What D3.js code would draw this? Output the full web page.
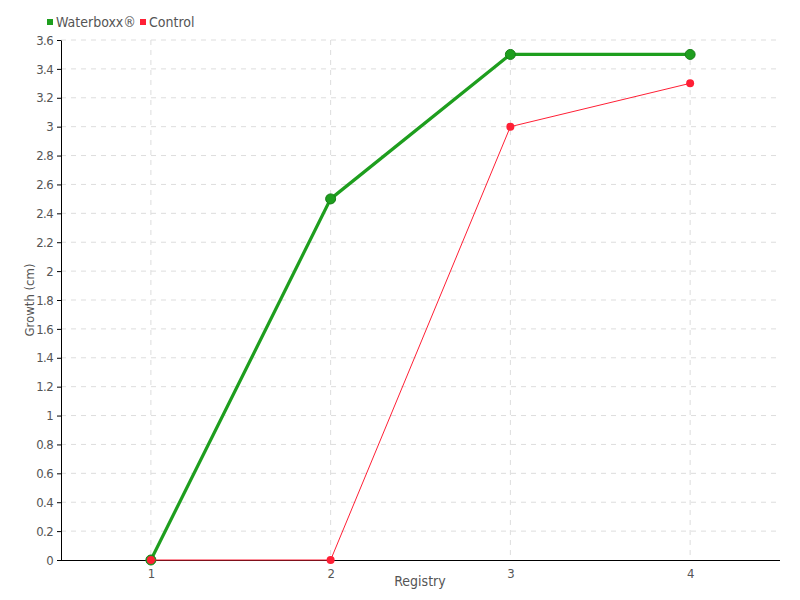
<!DOCTYPE html>
<html><head><meta charset="utf-8">
<script src="https://cdn.jsdelivr.net/npm/d3@7/dist/d3.min.js"></script>
<style>
body{margin:0;background:#fff;}
text{font-family:"DejaVu Sans Condensed",sans-serif;fill:#555;}
</style></head><body>
<svg id="c" width="800" height="600"></svg>
<script>
const categories = ["1","2","3","4"];
const seriesNames = ["Waterboxx®","Control"];
const waterboxx = [0, 2.5, 3.5, 3.5];
const control = [0, 0, 3.0, 3.3];
const yTicks = [0,0.2,0.4,0.6,0.8,1,1.2,1.4,1.6,1.8,2,2.2,2.4,2.6,2.8,3,3.2,3.4,3.6];
const colors = ["#1e9e1e","#ff1f35"];
const FONT = "DejaVu Sans Condensed, sans-serif";

const svg = d3.select("#c");
const L=61,R=780,T=40,B=560;
const x = d3.scalePoint().domain(categories).range([L,R]).padding(0.5);
const y = d3.scaleLinear().domain([0,3.6]).range([B,T]);

// grid
svg.append("g").selectAll("line").data(yTicks.slice(1)).join("line")
  .attr("x1",L).attr("x2",R).attr("y1",d=>y(d)).attr("y2",d=>y(d))
  .attr("stroke","#ddd").attr("stroke-dasharray","5,5");
svg.append("g").selectAll("line").data(categories).join("line")
  .attr("x1",d=>x(d)).attr("x2",d=>x(d)).attr("y1",T).attr("y2",B)
  .attr("stroke","#ddd").attr("stroke-dasharray","5,5");

// axes
const ya = svg.append("g").attr("transform",`translate(${L},0)`)
  .call(d3.axisLeft(y).tickValues(yTicks).tickSize(4).tickSizeOuter(0).tickFormat(d3.format("~g")));
ya.select(".domain").attr("stroke","#000");
ya.selectAll(".tick line").attr("stroke","#000");
ya.selectAll("text").attr("font-size",13).attr("fill","#555").attr("font-family",FONT)
  .attr("letter-spacing","-0.6").attr("dx",-1);
const xa = svg.append("g").attr("transform",`translate(0,${B})`)
  .call(d3.axisBottom(x).tickSize(0).tickPadding(9));
xa.select(".domain").attr("stroke","#000").attr("d",`M${L},0.5H${R}`);
xa.selectAll("text").attr("font-size",13).attr("fill","#555").attr("font-family",FONT);

svg.append("text").attr("x",420).attr("y",586).attr("text-anchor","middle").attr("font-size",14).text("Registry");
svg.append("text").attr("transform","translate(34,300) rotate(-90)").attr("text-anchor","middle").attr("font-size",13).text("Growth (cm)");

// series
const line = d3.line().x((d,i)=>x(categories[i])).y(d=>y(d));
svg.append("path").datum(waterboxx).attr("d",line).attr("fill","none").attr("stroke",colors[0]).attr("stroke-width",3.2);
svg.append("g").selectAll("circle").data(waterboxx).join("circle")
  .attr("cx",(d,i)=>x(categories[i])).attr("cy",d=>y(d)).attr("r",5)
  .attr("fill",colors[0]).attr("stroke","#178017").attr("stroke-width",1);
svg.append("path").datum(control).attr("d",line).attr("fill","none").attr("stroke",colors[1]).attr("stroke-width",1);
svg.append("g").selectAll("circle").data(control).join("circle")
  .attr("cx",(d,i)=>x(categories[i])).attr("cy",d=>y(d)).attr("r",4)
  .attr("fill",colors[1]);

// legend
const lg = svg.append("g");
const lx=[50,143];
seriesNames.forEach((n,i)=>{
  lg.append("rect").attr("x",lx[i]-3).attr("y",19).attr("width",6).attr("height",6).attr("fill",colors[i]);
  lg.append("text").attr("x",lx[i]+6).attr("y",27).attr("font-size",14).text(n);
});
</script></body></html>
